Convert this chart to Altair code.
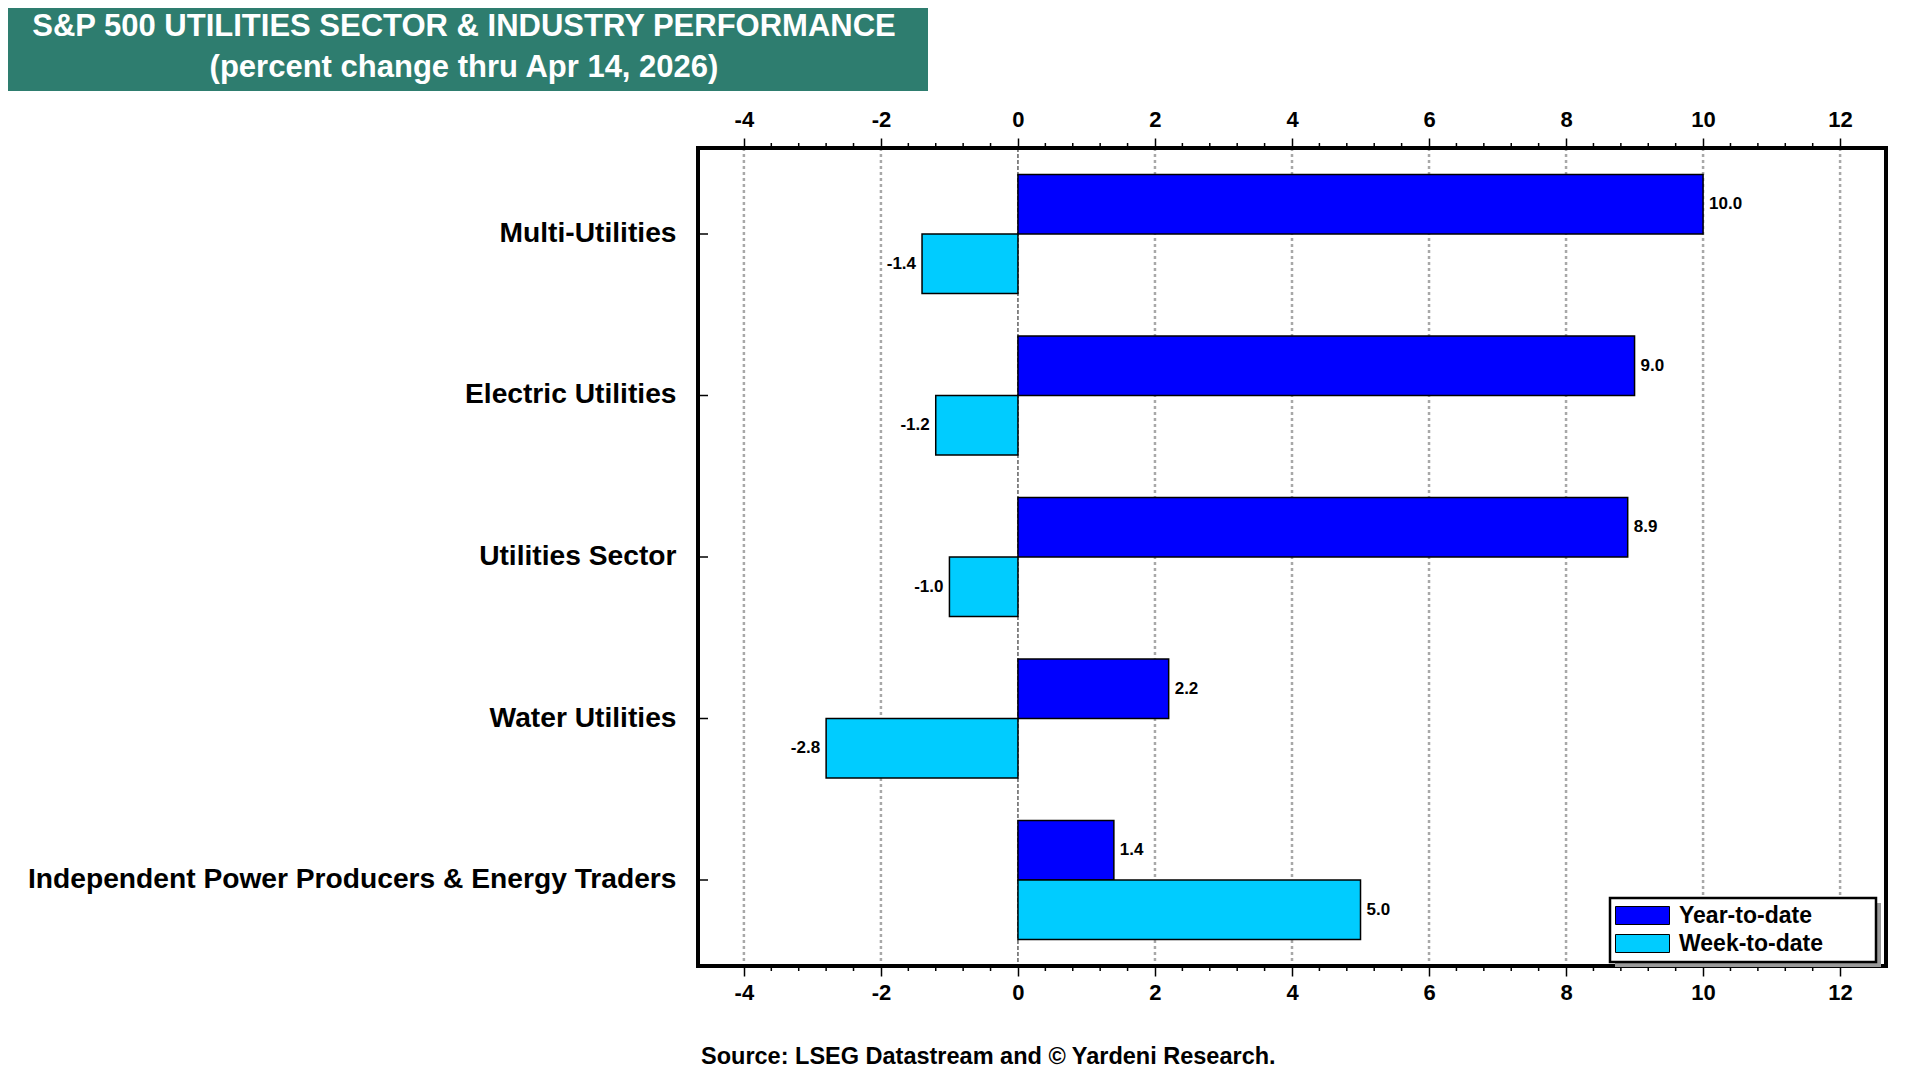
import altair as alt
import pandas as pd

# ---------------- data ----------------
categories = [
    "Multi-Utilities",
    "Electric Utilities",
    "Utilities Sector",
    "Water Utilities",
    "Independent Power Producers & Energy Traders",
]
ytd = [10.0, 9.0, 8.9, 2.2, 1.4]
wtd = [-1.4, -1.2, -1.0, -2.8, 5.0]
series_names = ["Year-to-date", "Week-to-date"]
series_colors = ["#0000FF", "#00CCFF"]
major_ticks = [-4, -2, 0, 2, 4, 6, 8, 10, 12]
title_line1 = "S&P 500 UTILITIES SECTOR & INDUSTRY PERFORMANCE"
title_line2 = "(percent change thru Apr 14, 2026)"
source_text = "Source: LSEG Datastream and \u00a9 Yardeni Research."

rows = []
for c, a, b in zip(categories, ytd, wtd):
    rows.append({"cat": c, "series": series_names[0], "value": a, "label": f"{a:.1f}"})
    rows.append({"cat": c, "series": series_names[1], "value": b, "label": f"{b:.1f}"})
df = pd.DataFrame(rows)

minor_ticks = [round(m + k * 0.4, 1) for m in major_ticks[:-1] for k in range(1, 5)]
grid_df = pd.DataFrame({"v": [t for t in major_ticks if t != 0]})
zero_df = pd.DataFrame({"v": [0]})
minor_df = pd.DataFrame({"v": minor_ticks})
cat_df = pd.DataFrame({"cat": categories})
one = pd.DataFrame({"t": [title_line1]})
one2 = pd.DataFrame({"t": [title_line2]})
src = pd.DataFrame({"t": [source_text]})

# ---------------- layout ----------------
W, H = 1188, 818
FONT = "Liberation Sans"

xscale = alt.Scale(domain=[-4.67, 12.67], nice=False)
yscale = alt.Scale(domain=categories, paddingInner=0.263, paddingOuter=0.164)
offscale = alt.Scale(domain=series_names, paddingInner=0, paddingOuter=0)

axis_common = dict(
    values=major_ticks,
    labelExpr="'' + datum.value",
    tickSize=10,
    tickWidth=1.5,
    tickColor="black",
    domain=False,
    grid=False,
    labelFont=FONT,
    labelFontSize=22,
    labelFontWeight="bold",
    labelColor="black",
    labelFlush=False,
    title=None,
)

y_axis = alt.Axis(
    ticks=False,
    domain=False,
    grid=False,
    labelPadding=22,
    labelFont=FONT,
    labelFontSize=28.2,
    labelFontWeight="bold",
    labelColor="black",
    labelLimit=1000,
    title=None,
)


def y_enc():
    return alt.Y("cat:N", scale=yscale, sort=categories, axis=y_axis)


def yoff_enc():
    return alt.YOffset("series:N", scale=offscale, sort=series_names)


# gridlines (with bottom axis)
grid = alt.Chart(grid_df).mark_rule(
    color="#A8A8A8", strokeWidth=2.5, strokeDash=[3, 3]
).encode(
    x=alt.X("v:Q", scale=xscale, axis=alt.Axis(orient="bottom", labelPadding=6, **axis_common)),
)

zero_line = alt.Chart(zero_df).mark_rule(
    color="#3A3A3A", strokeWidth=1.2, strokeDash=[4, 2]
).encode(x=alt.X("v:Q", scale=xscale, axis=None))

bars = alt.Chart(df).mark_bar(stroke="black", strokeWidth=1.5).encode(
    x=alt.X("value:Q", scale=xscale, axis=alt.Axis(orient="top", labelPadding=7, **axis_common)),
    y=y_enc(),
    yOffset=yoff_enc(),
    color=alt.Color(
        "series:N",
        sort=series_names,
        scale=alt.Scale(domain=series_names, range=series_colors),
        legend=alt.Legend(
            orient="none",
            legendX=916,
            legendY=756,
            title=None,
            symbolType="M-1,-0.9H4.4V0.9H-1Z",
            symbolSize=400,
            symbolStrokeColor="black",
            symbolStrokeWidth=1,
            symbolOpacity=1,
            labelFont=FONT,
            labelFontSize=23,
            labelFontWeight="bold",
            labelColor="black",
            labelOffset=42,
            rowPadding=4,
            padding=0,
        ),
    ),
)

text_common = dict(baseline="middle", font=FONT, fontWeight="bold", fontSize=17, color="black")
pos_text = alt.Chart(df).transform_filter("datum.value >= 0").mark_text(
    align="left", dx=6, **text_common
).encode(
    x=alt.X("value:Q", scale=xscale, axis=None),
    y=y_enc(),
    yOffset=yoff_enc(),
    text="label:N",
)
neg_text = alt.Chart(df).transform_filter("datum.value < 0").mark_text(
    align="right", dx=-6, **text_common
).encode(
    x=alt.X("value:Q", scale=xscale, axis=None),
    y=y_enc(),
    yOffset=yoff_enc(),
    text="label:N",
)

minor_top = alt.Chart(minor_df).mark_rule(color="black", strokeWidth=1.5).encode(
    x=alt.X("v:Q", scale=xscale, axis=None), y=alt.value(-5), y2=alt.value(0)
)
minor_bot = alt.Chart(minor_df).mark_rule(color="black", strokeWidth=1.5).encode(
    x=alt.X("v:Q", scale=xscale, axis=None), y=alt.value(H), y2=alt.value(H + 5)
)
cat_ticks = alt.Chart(cat_df).mark_rule(color="black", strokeWidth=1.5).encode(
    y=y_enc(),
    x=alt.value(0),
    x2=alt.value(10),
)

frame = alt.Chart(one).mark_rect(fill="transparent", stroke="black", strokeWidth=4).encode(
    x=alt.value(0), x2=alt.value(W), y=alt.value(0), y2=alt.value(H)
)

legend_shadow = alt.Chart(one).mark_rect(color="#9A9A9A").encode(
    x=alt.value(917), x2=alt.value(1183), y=alt.value(755), y2=alt.value(819)
)
legend_box = alt.Chart(one).mark_rect(fill="white", stroke="black", strokeWidth=2.5).encode(
    x=alt.value(912), x2=alt.value(1178), y=alt.value(750), y2=alt.value(814)
)

title_box = alt.Chart(one).mark_rect(color="#2E7D6F").encode(
    x=alt.value(-690), x2=alt.value(230), y=alt.value(-140), y2=alt.value(-57)
)
t1 = alt.Chart(one).mark_text(
    font=FONT, fontWeight="bold", fontSize=31, color="white", align="center", baseline="middle"
).encode(x=alt.value(-234), y=alt.value(-121), text="t:N")
t2 = alt.Chart(one2).mark_text(
    font=FONT, fontWeight="bold", fontSize=31, color="white", align="center", baseline="middle"
).encode(x=alt.value(-234), y=alt.value(-80), text="t:N")

source = alt.Chart(src).mark_text(
    font=FONT, fontWeight="bold", fontSize=23.5, color="black", align="left", baseline="middle"
).encode(x=alt.value(3), y=alt.value(909), text="t:N")

chart = alt.layer(
    grid, zero_line, bars, pos_text, neg_text, minor_top, minor_bot, cat_ticks,
    frame, legend_shadow, legend_box, title_box, t1, t2, source,
).resolve_axis(x="independent").properties(
    width=W,
    height=H,
    autosize=alt.AutoSizeParams(type="none"),
    padding={"left": 690, "top": 140, "right": 24, "bottom": 106},
    background="white",
).configure_view(stroke=None)

chart.save("out.html", embed_options={"renderer": "svg", "actions": False})
